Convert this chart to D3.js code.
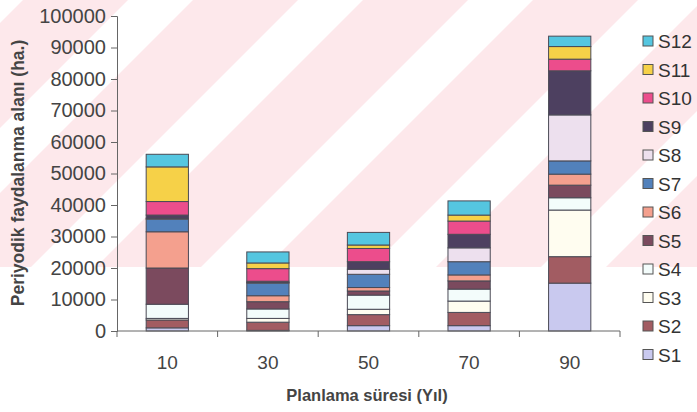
<!DOCTYPE html>
<html>
<head>
<meta charset="utf-8">
<script src="https://cdn.jsdelivr.net/npm/d3@7/dist/d3.min.js"></script>
<style>
  html, body { margin: 0; padding: 0; background: #fff; }
  svg { display: block; font-family: Arial, "Liberation Sans", sans-serif; }
</style>
</head>
<body>
<svg id="chart" width="697" height="412"></svg>
<script>
// Planning periods (years)
const categories = ["10", "30", "50", "70", "90"];
const seriesNames = ["S1", "S2", "S3", "S4", "S5", "S6", "S7", "S8", "S9", "S10", "S11", "S12"];

// Periodic harvest area per series (ha.)
const s1  = [1000,  200,  1700, 1700, 15200];
const s2  = [2500,  2600, 3500, 4200, 8400];
const s3  = [500,   1200, 1700, 3600, 14800];
const s4  = [4500,  3000, 4500, 3800, 3900];
const s5  = [11500, 2300, 1300, 2600, 4000];
const s6  = [11500, 1900, 1100, 1900, 3500];
const s7  = [4000,  4000, 4200, 4200, 4200];
const s8  = [300,   200,  1600, 4400, 14600];
const s9  = [1000,  400,  2400, 4300, 14000];
const s10 = [4300,  4000, 4200, 4200, 3700];
const s11 = [11000, 1800, 1100, 1900, 4000];
const s12 = [4000,  3500, 4000, 4500, 3300];

const yTicks = [0, 10000, 20000, 30000, 40000, 50000, 60000, 70000, 80000, 90000, 100000];

const seriesValues = [s1, s2, s3, s4, s5, s6, s7, s8, s9, s10, s11, s12];
const colors = ["#c9c9ef", "#a25c62", "#fffdf0", "#f3fcfb", "#7b4a5e", "#f4a08e",
                "#5281bb", "#ede0ee", "#4d4060", "#ec4d8c", "#f6d148", "#55c6e0"];

const rows = categories.map((c, i) => {
  const r = { cat: c };
  seriesNames.forEach((s, k) => { r[s] = seriesValues[k][i]; });
  return r;
});

const svg = d3.select("#chart");
const W = 697;

// faint diagonal watermark bands in the background
const defs = svg.append("defs");
defs.append("clipPath").attr("id", "wm")
  .append("rect").attr("x", 0).attr("y", 0).attr("width", W).attr("height", 267);
const wm = svg.append("g").attr("clip-path", "url(#wm)");
const bandStarts = [-147, 23, 193, 363, 533, 703, 873];
wm.selectAll("polygon").data(bandStarts).join("polygon")
  .attr("points", d => {
    const a = d, b = d + 105;
    return `${a},0 ${b},0 ${b - 300},300 ${a - 300},300`;
  })
  .attr("fill", "#fde8eb");

const x = d3.scaleBand().domain(categories).range([117, 620]).paddingInner(0.58).paddingOuter(0.29);
const y = d3.scaleLinear().domain([0, 100000]).range([331, 16]);

const layers = d3.stack().keys(seriesNames)(rows);

svg.append("g").selectAll("g.layer").data(layers).join("g")
  .attr("class", "layer")
  .attr("fill", (d, i) => colors[i])
  .selectAll("rect").data(d => d).join("rect")
  .attr("x", d => x(d.data.cat))
  .attr("width", x.bandwidth())
  .attr("y", d => y(d[1]))
  .attr("height", d => y(d[0]) - y(d[1]))
  .attr("stroke", "#4a4a55")
  .attr("stroke-width", 1);

// y axis
const yAxis = svg.append("g")
  .attr("transform", "translate(117,0)")
  .call(d3.axisLeft(y).tickValues(yTicks).tickSize(6).tickPadding(5).tickFormat(d3.format("d")));
yAxis.select(".domain").attr("stroke", "#666");
yAxis.selectAll(".tick line").attr("stroke", "#666");
yAxis.selectAll(".tick text").attr("fill", "#444").attr("font-size", 20)
  .attr("font-family", "Arial, Liberation Sans, sans-serif");

// x axis with tick marks between categories
const xAxisG = svg.append("g").attr("transform", "translate(0,331)");
xAxisG.append("line").attr("x1", 117).attr("x2", 620).attr("y1", 0).attr("y2", 0).attr("stroke", "#666");
const bounds = d3.range(categories.length + 1).map(i => 117 + i * (620 - 117) / categories.length);
xAxisG.selectAll("line.tk").data(bounds).join("line").attr("class", "tk")
  .attr("x1", d => d).attr("x2", d => d).attr("y1", 0).attr("y2", 6).attr("stroke", "#666");
xAxisG.selectAll("text").data(categories).join("text")
  .attr("x", d => x(d) + x.bandwidth() / 2)
  .attr("y", 38)
  .attr("text-anchor", "middle")
  .attr("fill", "#444")
  .attr("font-size", 19)
  .text(d => d);

// axis titles
svg.append("text")
  .attr("x", 367).attr("y", 401)
  .attr("text-anchor", "middle")
  .attr("font-weight", "bold")
  .attr("font-size", 16.5)
  .attr("fill", "#444")
  .text("Planlama süresi (Yıl)");

svg.append("text")
  .attr("transform", "translate(24,173) rotate(-90)")
  .attr("text-anchor", "middle")
  .attr("font-weight", "bold")
  .attr("font-size", 17.5)
  .attr("fill", "#444")
  .text("Periyodik faydalanma alanı (ha.)");

// legend, top entry is the last series
const legendItems = seriesNames.map((s, i) => ({ name: s, color: colors[i] })).reverse();
const item = svg.append("g").selectAll("g").data(legendItems).join("g")
  .attr("transform", (d, i) => `translate(643,${41 + i * 28.5})`);
item.append("rect").attr("x", 0).attr("y", -5).attr("width", 10).attr("height", 10)
  .attr("fill", d => d.color).attr("stroke", "#555").attr("stroke-width", 1);
item.append("text").attr("x", 15).attr("y", 7)
  .attr("font-size", 19).attr("fill", "#333")
  .text(d => d.name);
</script>
</body>
</html>
